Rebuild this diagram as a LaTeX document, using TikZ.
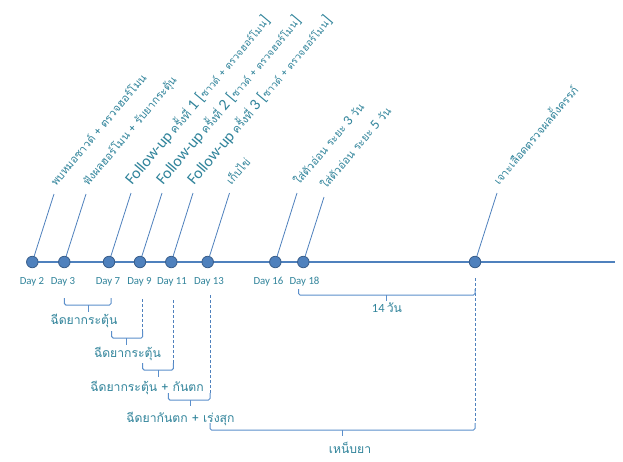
\documentclass[tikz,border=0pt]{standalone}
\usepackage{fontspec}
\setmainfont{Carlito}
\newfontfamily\thf[Script=Thai]{Loma}
\definecolor{txt}{HTML}{31849B}
\definecolor{ln}{HTML}{4F81BD}
\definecolor{dotb}{HTML}{385D8A}
\definecolor{br}{HTML}{5B8FCB}
\newcommand{\thA}{\thf\fontsize{11}{12}\selectfont}
\newcommand{\thS}{\thf\fontsize{10}{12}\selectfont}
\newcommand{\thF}{\thf\fontsize{11.3}{12}\selectfont}
\newcommand{\thM}{\thf\fontsize{12.2}{12}\selectfont}
\newcommand{\laB}{\fontsize{16}{16}\selectfont}
\newcommand{\laM}{\fontsize{14}{14}\selectfont}
\begin{document}
\begin{tikzpicture}[x=1pt,y=-1pt]
\tikzset{
  dot/.style={circle, fill=ln, draw=dotb, line width=0.8pt, minimum size=11.5pt, inner sep=0pt},
  conn/.style={ln, line width=0.8pt},
  lab/.style={rotate=50, anchor=base west, inner sep=0pt, text=txt},
  day/.style={anchor=base, inner sep=0pt, text=txt, font=\fontsize{10.8}{12}\selectfont},
  blab/.style={anchor=base, inner sep=0pt, text=txt},
  bracket/.style={br, line width=1pt, rounded corners=1.5pt},
  dline/.style={ln, line width=0.8pt, dashed, dash pattern=on 3pt off 2pt},
  axis/.style={ln, line width=2pt}
}
\useasboundingbox (0,0) rectangle (623,461);
\fill[white] (0,0) rectangle (623,461);
% timeline
\coordinate (aend) at (615,262);
\coordinate (astart) at (27,262);
\draw[axis] (astart) -- (aend);
% dots
\node[dot] (d2) at (32.3,262) {};
\node[dot] (d3) at (64.3,262) {};
\node[dot] (d7) at (109,262) {};
\node[dot] (d9) at (140,262) {};
\node[dot] (d11) at (171.3,262) {};
\node[dot] (d13) at (207.7,262) {};
\node[dot] (d16) at (275.3,262) {};
\node[dot] (d18) at (303.3,262) {};
\node[dot] (d32) at (475,262) {};
% connector tops
\coordinate (t2) at (54,194);
\coordinate (t3) at (86,194);
\coordinate (t7) at (131,193);
\coordinate (t9) at (162,193);
\coordinate (t11) at (193,193);
\coordinate (t13) at (229.5,193);
\coordinate (t16) at (297,193);
\coordinate (t18) at (324,197);
\coordinate (t32) at (497,193);
\foreach \i in {2,3,7,9,11,13,16,18,32}{
  \draw[conn] (d\i) -- (t\i);
}
% rotated labels
\node[lab] (l2) at ([shift={(2,-7)}]t2) {\thA พบหมอซาวด์ + ตรวจฮอร์โมน};
\node[lab] (l3) at ([shift={(2,-7)}]t3) {\thA ฟังผลฮอร์โมน + รับยากระตุ้น};
\node[lab] (l7) at ([shift={(1,-7)}]t7) {\laB Follow-up\,{\thF ครั้งที่} 1 [{\thS ซาวด์ + ตรวจฮอร์โมน}]};
\node[lab] (l9) at ([shift={(1,-7)}]t9) {\laB Follow-up\,{\thF ครั้งที่} 2 [{\thS ซาวด์ + ตรวจฮอร์โมน}]};
\node[lab] (l11) at ([shift={(1,-7)}]t11) {\laB Follow-up\,{\thF ครั้งที่} 3 [{\thS ซาวด์ + ตรวจฮอร์โมน}]};
\node[lab] (l13) at ([shift={(2,-7)}]t13) {\thA เก็บไข่};
\node[lab] (l16) at ([shift={(2,-7)}]t16) {\thA ใส่ตัวอ่อน ระยะ {\rmfamily\laM 3} วัน};
\node[lab] (l18) at ([shift={(2,-7)}]t18) {\thA ใส่ตัวอ่อน ระยะ {\rmfamily\laM 5} วัน};
\node[lab] (l32) at ([shift={(2,-7)}]t32) {\thA เจาะเลือดตรวจผลตั้งครรภ์};
% day labels
\node[day] (y2) at (32,284) {Day 2};
\node[day] (y3) at (63,284) {Day 3};
\node[day] (y7) at (108,284) {Day 7};
\node[day] (y9) at (139.5,284) {Day 9};
\node[day] (y11) at (172,284) {Day 11};
\node[day] (y13) at (209,284) {Day 13};
\node[day] (y16) at (268.5,284) {Day 16};
\node[day] (y18) at (304.5,284) {Day 18};
% dashed guides
\coordinate (g9a) at (142.7,299);  \coordinate (g9b) at (142.7,331);
\coordinate (g11a) at (173.3,300); \coordinate (g11b) at (173.3,363);
\coordinate (g13a) at (210,295);   \coordinate (g13b) at (210,393);
\coordinate (g32a) at (475,278);   \coordinate (g32b) at (475,423);
\draw[dline] (g9a) -- (g9b);
\draw[dline] (g11a) -- (g11b);
\draw[dline] (g13a) -- (g13b);
\draw[dline] (g32a) -- (g32b);
% brackets
\draw[bracket] (64.3,298) -- (64.3,305) -- (111,305) -- (111,298);
\draw[bracket] (88,305) -- (88,311.5);
\draw[bracket] (111.7,331) -- (111.7,338) -- (g9b |- 0,338) -- (g9b);
\draw[bracket] (126.7,338) -- (126.7,344.5);
\draw[bracket] (142.7,363) -- (142.7,370) -- (g11b |- 0,370) -- (g11b);
\draw[bracket] (158.3,370) -- (158.3,377);
\draw[bracket] (168.3,393) -- (168.3,400) -- (g13b |- 0,400) -- (g13b);
\draw[bracket] (190,400) -- (190,405.5);
\draw[bracket] (210,423) -- (210,430) -- (g32b |- 0,430) -- (g32b);
\draw[bracket] (342.7,430) -- (342.7,436);
\draw[bracket] (298.5,289) -- (298.5,295) -- (475,295) -- (475,289);
\draw[bracket] (386.7,295) -- (386.7,301);
% bracket labels
\node[blab] (b1) at (84,324) {\thM ฉีดยากระตุ้น};
\node[blab] (b2) at (127.5,357) {\thM ฉีดยากระตุ้น};
\node[blab] (b3) at (147,391) {\thM ฉีดยากระตุ้น + กันตก};
\node[blab] (b4) at (180.5,422) {\thM ฉีดยากันตก + เร่งสุก};
\node[blab] (b5) at (350,453) {\thM เหน็บยา};
\node[blab] (b6) at (387,312) {{\fontsize{12.5}{12}\selectfont 14} {\thM วัน}};
\end{tikzpicture}
\end{document}
